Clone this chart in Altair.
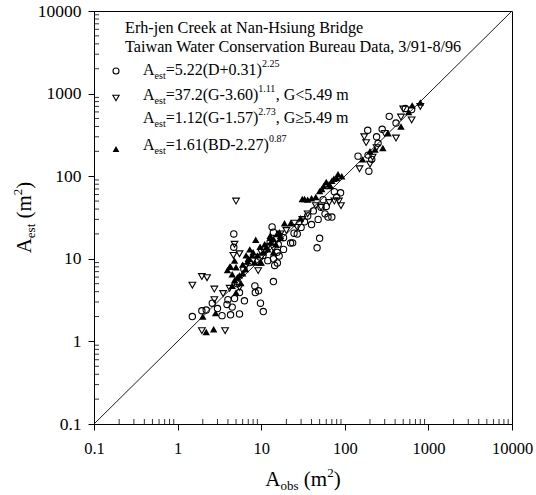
import altair as alt
import pandas as pd

# ---- data ----
circ_obs = [1.5, 1.95, 2.2, 3.4, 3.9, 4.3, 4.0, 4.8, 5.5, 6.3, 5.5, 4.7, 4.7, 8.4, 9.3, 9.8, 10.6,
            14, 14.5, 14, 15.5, 14, 16, 18.5, 23.8, 27, 30, 40, 46.6, 50, 48, 58, 63, 70, 60, 89, 80,
            144, 188, 194, 240, 280, 340, 410, 530, 630,
            13.5, 24.7, 22.5, 8.5, 15.6, 16.4, 12, 10.5, 12.8, 18.5, 9.7, 7.2, 6.2, 4.5, 3.0, 36, 42,
            52, 75, 190, 210, 250, 2.6, 5.2, 11, 33, 55]
circ_est = [2.0, 2.35, 2.4, 2.05, 2.8, 2.1, 3.2, 3.3, 2.15, 3.1, 3.9, 20, 13.8, 4.7, 4.1, 2.9, 2.3,
            5.3, 8.3, 10, 12, 21, 15, 18, 15.6, 20, 24, 26, 13.6, 17.7, 30, 35, 32, 32, 43, 63, 56,
            175, 360, 115, 300, 370, 530, 440, 660, 640,
            24.3, 20.4, 15.5, 3.9, 8.9, 10.8, 9.5, 11, 16, 13, 10.5, 9, 7.5, 2.6, 2.5, 33, 38,
            42, 65, 180, 160, 250, 2.9, 5, 13, 28, 52]

tdn_obs = [1.5, 1.95, 2.25, 1.95, 3.7, 2.75, 2.75, 5.0, 4.8, 4.65, 5.5, 5.5, 9.2, 17, 14, 20, 25,
           31, 36, 52, 75, 90, 150, 171, 180, 215, 240, 410, 470, 500, 630, 800,
           6.5, 8, 10, 12, 3.5, 4.2, 27, 45, 65, 85, 200, 300]
tdn_est = [4.8, 6.1, 5.9, 1.35, 1.35, 4.3, 3.2, 50, 15, 11, 11.5, 4.5, 7.2, 20, 13.5, 22, 27,
           30, 35, 42, 50, 44, 123, 300, 255, 170, 222, 290, 520, 650, 480, 700,
           8, 9.5, 12, 14, 3.8, 4.4, 24, 44, 48, 50, 140, 330]

tup_obs = [2.0, 2.85, 2.7, 2.2, 3.95, 4.5, 4.5, 5.0, 5.5, 6.0, 6.9, 7.3, 8.6, 9.7, 10.6, 11.6,
           12.8, 14, 15.5, 16.5, 14, 19, 22.5, 29.5, 31, 40, 50, 56, 60, 67, 74, 83, 92,
           163, 200, 230, 285, 330, 470, 580, 640, 800,
           8.4, 9.7, 6.0, 6.6, 5.7, 5.0, 33, 36, 45, 4.2, 4.8, 7.8, 13, 17,
           7, 8, 9, 11, 12, 13, 15, 17, 10, 6.5, 5.2, 4.3, 4.8, 53, 65, 80, 70]
tup_est = [2.0, 2.2, 1.4, 1.3, 7.3, 6.5, 4.7, 7.9, 6.3, 6.7, 9.3, 13, 17, 14, 12, 14,
           19, 17.5, 20, 21, 12, 27, 27, 31, 53, 54, 66, 76, 85, 76, 93, 106, 100,
           160, 200, 210, 220, 330, 400, 600, 720, 780,
           9.0, 9.0, 8.5, 11, 5.1, 3.9, 53, 52, 56, 8.0, 9.5, 11, 16, 18,
           10, 12, 11, 15, 13, 18, 15, 19, 9, 7.5, 6, 8, 5.5, 70, 80, 95, 88]

diag_vals = [0.1, 10000]
major_ticks = [0.1, 1, 10, 100, 1000, 10000]

title_lines = ["Erh-jen Creek at Nan-Hsiung Bridge",
               "Taiwan Water Conservation Bureau Data, 3/91-8/96"]
eq_main = ["=5.22(D+0.31)", "=37.2(G-3.60)", "=1.12(G-1.57)", "=1.61(BD-2.27)"]
eq_sup = ["2.25", "1.11", "2.73", "0.87"]
eq_tail = ["", ", G<5.49 m", ", G\u22655.49 m", ""]

# ---- layout ----
W, H = 418, 413
FONT = "'Liberation Serif', 'Times New Roman', Times, serif"

# Times glyph widths (per 1000 em)
GW = {" ": 250, "(": 333, ")": 333, "+": 564, ",": 250, "-": 333, ".": 250, "<": 564,
      "=": 564, "\u2265": 549, "A": 722, "B": 667, "D": 722, "G": 722, "b": 500, "e": 444,
      "m": 778, "o": 500, "s": 389, "t": 278}
for d in "0123456789":
    GW[d] = 500


def tw(s, size):
    return sum(GW.get(c, 500) for c in s) / 1000.0 * size


def rows_for(pieces, x0, y0, rot=False):
    out, off = [], 0.0
    for txt, size, shift in pieces:
        if txt.strip():
            if rot:
                out.append(dict(px=x0 + shift, py=y0 - off, t=txt, fs=size))
            else:
                out.append(dict(px=x0 + off, py=y0 + shift, t=txt, fs=size))
        off += tw(txt, size)
    return out


text_rows = [dict(px=31, py=22, t=title_lines[0], fs=16.2),
             dict(px=31, py=41, t=title_lines[1], fs=16.2)]
eq_y = [64, 89, 112, 139]
for i in range(4):
    pcs = [("A", 16, 0), ("est", 10, 3.5), (eq_main[i], 16, 0), (eq_sup[i], 10, -8)]
    if eq_tail[i]:
        pcs.append((eq_tail[i], 16, 0))
    text_rows += rows_for(pcs, 49, eq_y[i])

# x axis title (relative to plot origin)
xt = [("A", 21, 0), ("obs", 13, 4), (" ", 21, 0), ("(m", 21, 0), ("2", 13, -9), (")", 21, 0)]
xt_w = sum(tw(a, b) for a, b, c in xt)
text_rows += rows_for(xt, W / 2 - xt_w / 2, 475)
txt_df = pd.DataFrame(text_rows)

yt = [("A", 21, 0), ("est", 13, 4), (" ", 21, 0), ("(m", 21, 0), ("2", 13, -9), (")", 21, 0)]
yt_w = sum(tw(a, b) for a, b, c in yt)
ytxt_df = pd.DataFrame(rows_for(yt, -63, H / 2 + yt_w / 2, rot=True))

# ---- scales / axes ----
xs = alt.Scale(type="log", domain=[0.1, 10000], nice=False)
ys = alt.Scale(type="log", domain=[0.1, 10000], nice=False)
lab = "datum.value < 1 ? '0.1' : format(datum.value, 'd')"
xaxis = alt.Axis(values=major_ticks, labelExpr=lab, title=None, grid=False, tickSize=6,
                 labelPadding=10, labelFont=FONT, labelFontSize=16.5, labelColor="black",
                 tickColor="black", domainColor="black", labelFlush=False, labelOverlap=False)
yaxis = alt.Axis(values=major_ticks, labelExpr=lab, title=None, grid=False, tickSize=6,
                 labelPadding=7, labelFont=FONT, labelFontSize=17.5, labelColor="black",
                 tickColor="black", domainColor="black", labelOverlap=False)
X = alt.X("obs:Q", scale=xs, axis=xaxis)
Y = alt.Y("est:Q", scale=ys, axis=yaxis)

minor = [k * 10.0 ** n for n in range(-1, 4) for k in range(2, 10)]

diag = alt.Chart(pd.DataFrame({"obs": diag_vals, "est": diag_vals})).mark_line(
    color="black", strokeWidth=0.9).encode(x=X, y=Y)

yminor = alt.Chart(pd.DataFrame({"est": minor})).mark_rule(
    color="black", strokeWidth=0.8).encode(y=Y, x=alt.value(0), x2=alt.value(5))
xminor = alt.Chart(pd.DataFrame({"obs": minor})).mark_rule(
    color="black", strokeWidth=0.8).encode(x=X, y=alt.value(H), y2=alt.value(H - 5))

circ = alt.Chart(pd.DataFrame({"obs": circ_obs, "est": circ_est})).mark_point(
    shape="circle", filled=False, color="black", strokeWidth=1.1, size=40, opacity=1
).encode(x=X, y=Y)
tdn = alt.Chart(pd.DataFrame({"obs": tdn_obs, "est": tdn_est})).mark_point(
    shape="triangle-down", filled=False, color="black", strokeWidth=1.1, size=45, opacity=1
).encode(x=X, y=Y)
tup = alt.Chart(pd.DataFrame({"obs": tup_obs, "est": tup_est})).mark_point(
    shape="triangle-up", filled=True, color="black", size=55, opacity=1
).encode(x=X, y=Y)

# legend symbols
leg_c = alt.Chart(pd.DataFrame({"k": [0]})).mark_point(
    shape="circle", filled=False, color="black", strokeWidth=1.1, size=36, opacity=1
).encode(x=alt.value(22), y=alt.value(60))
leg_d = alt.Chart(pd.DataFrame({"k": [0]})).mark_point(
    shape="triangle-down", filled=False, color="black", strokeWidth=1.1, size=40, opacity=1
).encode(x=alt.value(22), y=alt.value(87))
leg_u = alt.Chart(pd.DataFrame({"k": [0]})).mark_point(
    shape="triangle-up", filled=True, color="black", size=45, opacity=1
).encode(x=alt.value(22), y=alt.value(138))

texts = alt.Chart(txt_df).mark_text(
    align="left", baseline="alphabetic", font=FONT, color="black"
).encode(x=alt.X("px:Q", scale=None), y=alt.Y("py:Q", scale=None), text="t:N",
         size=alt.Size("fs:Q", scale=None))
ytexts = alt.Chart(ytxt_df).mark_text(
    align="left", baseline="alphabetic", font=FONT, color="black", angle=270
).encode(x=alt.X("px:Q", scale=None), y=alt.Y("py:Q", scale=None), text="t:N",
         size=alt.Size("fs:Q", scale=None))

chart = alt.layer(
    diag, yminor, xminor, circ, tdn, tup, leg_c, leg_d, leg_u, texts, ytexts
).properties(
    width=W, height=H,
    autosize=alt.AutoSizeParams(type="none"),
    padding={"left": 94, "top": 11, "right": 24, "bottom": 71},
    background="white",
).configure_view(stroke="black", strokeWidth=1)

chart.save("out.html", embed_options={"renderer": "svg", "actions": False})
